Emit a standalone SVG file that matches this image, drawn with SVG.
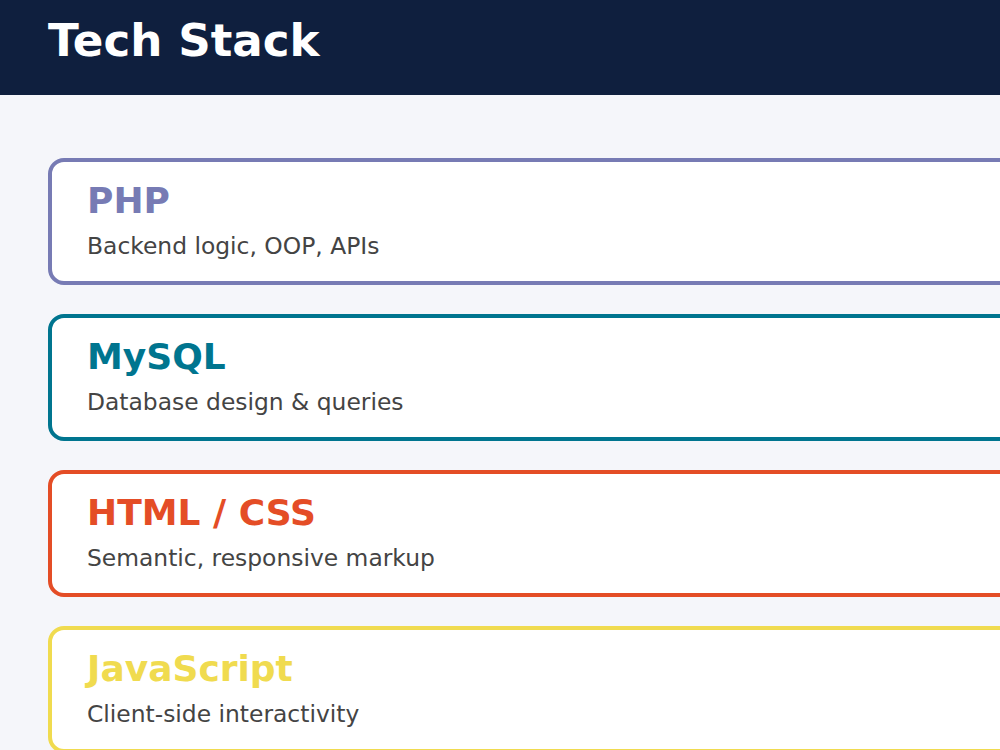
<svg xmlns="http://www.w3.org/2000/svg" width="1000" height="750" viewBox="0 0 1000 750">
<style>
.card{fill:#ffffff;stroke-width:4}
.title{font-family:"DejaVu Sans",sans-serif;font-weight:bold;font-size:36px}
.sub{font-family:"DejaVu Sans",sans-serif;font-size:23.4px;fill:#444444}
</style>
<rect x="0" y="0" width="1000" height="750" fill="#f5f6fa"/>
<g id="header">
<rect x="0" y="0" width="1000" height="95" fill="#0f1f3e"/>
<text x="48" y="56" font-family="DejaVu Sans, sans-serif" font-weight="bold" font-size="45.2" fill="#ffffff">Tech Stack</text>
</g>
<g id="php">
<rect class="card" x="50" y="160" width="1000" height="123" rx="14" stroke="#777bb4"/>
<text class="title" x="87" y="213" fill="#777bb4">PHP</text>
<text class="sub" x="87" y="253.5">Backend logic, OOP, APIs</text>
</g>
<g id="mysql">
<rect class="card" x="50" y="316" width="1000" height="123" rx="14" stroke="#00758f"/>
<text class="title" x="87" y="369" fill="#00758f">MySQL</text>
<text class="sub" x="87" y="409.5">Database design &amp; queries</text>
</g>
<g id="htmlcss">
<rect class="card" x="50" y="472" width="1000" height="123" rx="14" stroke="#e44d26"/>
<text class="title" x="87" y="525" fill="#e44d26">HTML / CSS</text>
<text class="sub" x="87" y="565.5">Semantic, responsive markup</text>
</g>
<g id="javascript">
<rect class="card" x="50" y="628" width="1000" height="123" rx="14" stroke="#f0db4f"/>
<text class="title" x="87" y="681" fill="#f0db4f">JavaScript</text>
<text class="sub" x="87" y="721.5">Client-side interactivity</text>
</g>
<g id="connectors"/>
</svg>
